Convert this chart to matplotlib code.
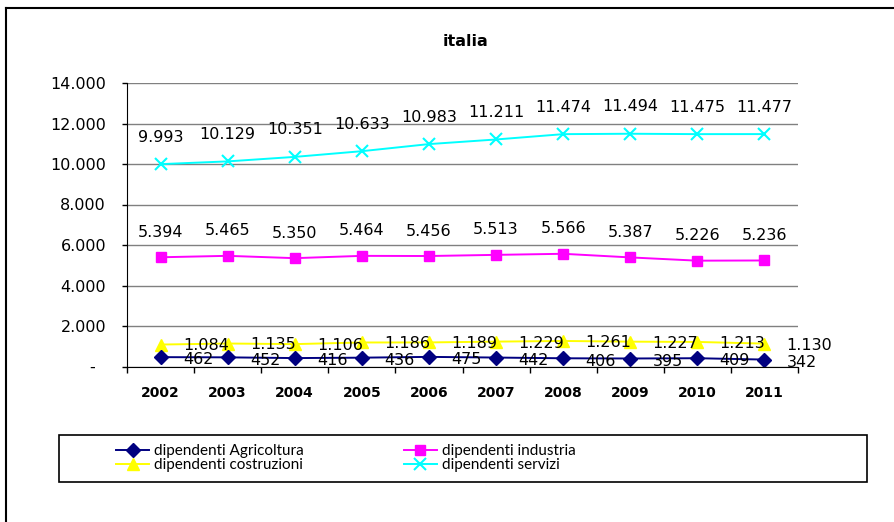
import matplotlib
matplotlib.use("Agg")
import matplotlib.pyplot as plt
from matplotlib.lines import Line2D
from matplotlib.patches import Rectangle
from matplotlib.ticker import FixedLocator

anni = ["2002", "2003", "2004", "2005", "2006", "2007", "2008", "2009", "2010", "2011"]
agricoltura = [462, 452, 416, 436, 475, 442, 406, 395, 409, 342]
industria = [5394, 5465, 5350, 5464, 5456, 5513, 5566, 5387, 5226, 5236]
costruzioni = [1084, 1135, 1106, 1186, 1189, 1229, 1261, 1227, 1213, 1130]
servizi = [9993, 10129, 10351, 10633, 10983, 11211, 11474, 11494, 11475, 11477]
yticks = [0, 2000, 4000, 6000, 8000, 10000, 12000, 14000]


def fmt(v):
    return f"{v:,}".replace(",", ".")


W, H = 895, 522
fig = plt.figure(figsize=(W / 100, H / 100), dpi=100)
ax = fig.add_axes([127 / W, 1 - 366.5 / H, (798 - 127) / W, (366.5 - 83) / H])

x = list(range(len(anni)))
ax.plot(x, servizi, color="#00FFFF", marker="x", markersize=9, mew=1.5, lw=1.4, label="dipendenti servizi")
ax.plot(x, industria, color="#FF00FF", marker="s", markersize=7, lw=1.4, label="dipendenti industria")
ax.plot(x, costruzioni, color="#FFFF00", marker="^", markersize=9, lw=1.4, label="dipendenti costruzioni")
ax.plot(x, agricoltura, color="#000080", marker="D", markersize=7, lw=1.4, label="dipendenti Agricoltura")

# etichette dati
fs = 11.5
for i in x:
    ax.annotate(fmt(servizi[i]), (i, servizi[i]), xytext=(0, 19.5), textcoords="offset points",
                ha="center", va="center", fontsize=fs)
    ax.annotate(fmt(industria[i]), (i, industria[i]), xytext=(0, 18), textcoords="offset points",
                ha="center", va="center", fontsize=fs)
    ax.annotate(fmt(costruzioni[i]), (i, costruzioni[i]), xytext=(16, -1), textcoords="offset points",
                ha="left", va="center", fontsize=fs)
    ax.annotate(fmt(agricoltura[i]), (i, agricoltura[i]), xytext=(16, -2), textcoords="offset points",
                ha="left", va="center", fontsize=fs)

ax.set_xlim(-0.5, len(anni) - 0.5)
ax.set_ylim(0, 14000)
ax.set_yticks(yticks)
ax.set_yticklabels(["-  "] + [fmt(v) for v in yticks[1:]], fontsize=fs)
ax.set_xticks(x)
ax.set_xticklabels(anni, fontsize=10, fontweight="bold")
ax.xaxis.set_minor_locator(FixedLocator([i - 0.5 for i in range(len(anni) + 1)]))
ax.tick_params(axis="x", which="major", length=0, pad=14)
ax.tick_params(axis="x", which="minor", length=4.5, width=1, color="black")
ax.tick_params(axis="y", length=3.6, width=1, pad=11.5, color="black")

ax.grid(axis="y", color="#808080", lw=1)
ax.set_axisbelow(True)
for s in ["top", "right"]:
    ax.spines[s].set_visible(False)
ax.spines["left"].set_color("black")
ax.spines["bottom"].set_color("black")

fig.text(466 / W, 1 - 42 / H, "italia", ha="center", va="center", fontsize=11.5, fontweight="bold")

# legenda
h = {l.get_label(): l for l in ax.get_lines()}
order = ["dipendenti Agricoltura", "dipendenti costruzioni", "dipendenti industria", "dipendenti servizi"]
leg = fig.legend([h[k] for k in order], order, ncol=2, frameon=False,
                 loc="upper left", bbox_to_anchor=(116 / W, 1 - 444 / H),
                 prop={"family": ["Lato", "DejaVu Sans"], "size": 11},
                 handlelength=2.16, handletextpad=0.33,
                 columnspacing=6.55, labelspacing=0.0, borderpad=0, borderaxespad=0)
fig.add_artist(Rectangle((59 / W, 1 - 482 / H), (867 - 59) / W, (482 - 435) / H,
                         transform=fig.transFigure, fill=False, edgecolor="black", lw=1.2))

# bordo esterno
fig.add_artist(Line2D([6 / W, 6 / W], [0, 1 - 8 / H], transform=fig.transFigure, color="black", lw=1.5))
fig.add_artist(Line2D([6 / W, 1], [1 - 8 / H, 1 - 8 / H], transform=fig.transFigure, color="black", lw=1.5))

fig.savefig("out.png", dpi=100)
